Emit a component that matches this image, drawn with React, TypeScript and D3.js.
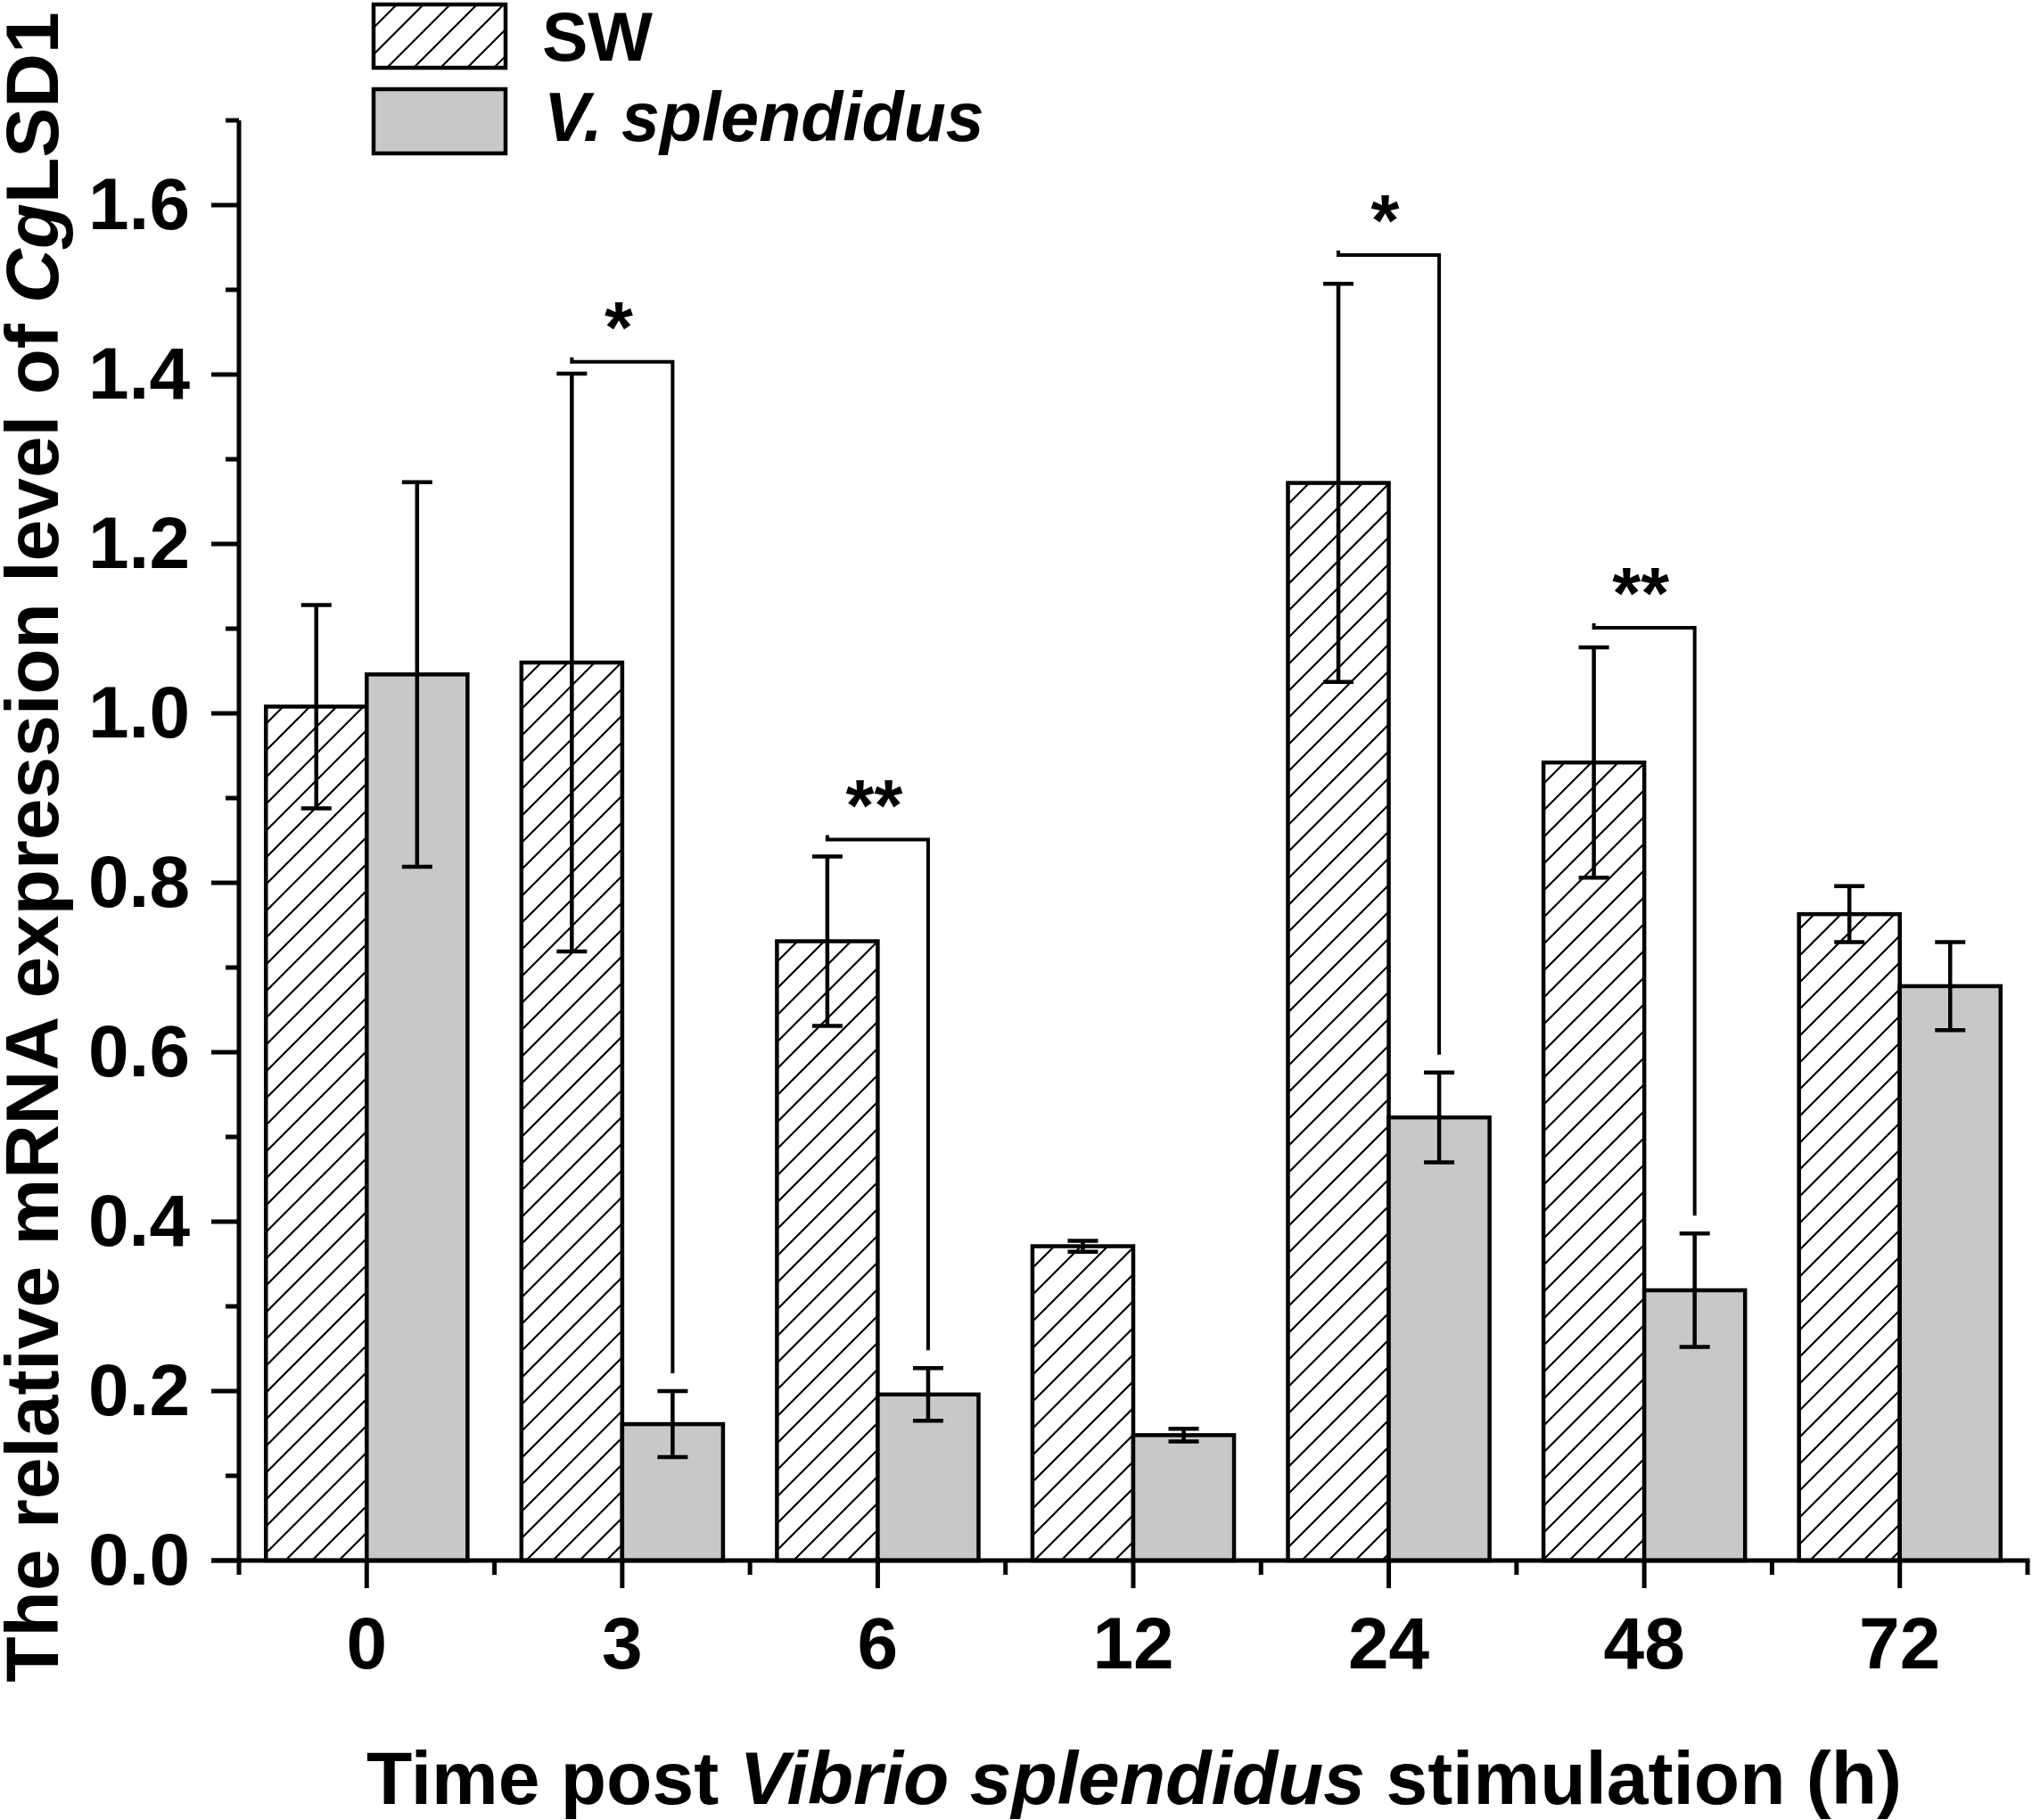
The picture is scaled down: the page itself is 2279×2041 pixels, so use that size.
import React from "react";
import * as d3 from "d3";

const categories = ["0", "3", "6", "12", "24", "48", "72"];
const swMean = [1.008, 1.06, 0.731, 0.371, 1.272, 0.942, 0.763];
const swSD = [0.12, 0.341, 0.1, 0.0065, 0.235, 0.136, 0.033];
const vsMean = [1.046, 0.161, 0.196, 0.148, 0.523, 0.319, 0.678];
const vsSD = [0.227, 0.039, 0.031, 0.0075, 0.053, 0.067, 0.052];
const sigCats = ["3", "6", "24", "48"];
const sigLabels = ["*", "**", "*", "**"];
const sigLevels = [1.415, 0.851, 1.541, 1.101];
const yMajorTicks = [0, 0.2, 0.4, 0.6, 0.8, 1.0, 1.2, 1.4, 1.6];
const yMinorTicks = [0.1, 0.3, 0.5, 0.7, 0.9, 1.1, 1.3, 1.5, 1.7];

const W = 2279;
const H = 2041;
const FONT = "'Liberation Sans', Arial, Helvetica, sans-serif";

export default function App() {
  const x = d3
    .scaleBand<string>()
    .domain(categories)
    .range([268, 2274])
    .paddingInner(0.211)
    .paddingOuter(0.1055);
  const y = d3.scaleLinear().domain([0, 1.7]).range([1750, 135]);
  const step = x.step();
  const bw = x.bandwidth() / 2;
  const center = (c: string) => (x(c) as number) + x.bandwidth() / 2;
  const xStart = 268;
  const xEnd = 2274;
  const minorX = d3.range(categories.length + 1).map((i) => xStart + i * step);
  const capW = 34;
  const axisW = 5;

  return (
    <svg
      width={W}
      height={H}
      viewBox={`0 0 ${W} ${H}`}
      style={{ position: "absolute", left: 0, top: 0, background: "#fff" }}
      fontFamily={FONT}
    >
      <defs>
        <pattern id="hatch" patternUnits="userSpaceOnUse" width={30} height={30}>
          <rect width={30} height={30} fill="#fff" />
          <path
            d="M-7.5,7.5 L7.5,-7.5 M0,30 L30,0 M22.5,37.5 L37.5,22.5"
            stroke="#000"
            strokeWidth={2.2}
          />
        </pattern>
      </defs>
      <rect width={W} height={H} fill="#fff" />

      {/* bars */}
      {categories.map((c, i) => {
        const cx = center(c);
        return (
          <g key={"bars" + c}>
            <rect
              x={cx - bw}
              y={y(swMean[i])}
              width={bw}
              height={y(0) - y(swMean[i])}
              fill="url(#hatch)"
              stroke="#000"
              strokeWidth={4.5}
            />
            <rect
              x={cx}
              y={y(vsMean[i])}
              width={bw}
              height={y(0) - y(vsMean[i])}
              fill="#c8c8c8"
              stroke="#000"
              strokeWidth={4.5}
            />
          </g>
        );
      })}

      {/* error bars */}
      {categories.map((c, i) => {
        const cx = center(c);
        const items = [
          { ex: cx - bw / 2, m: swMean[i], s: swSD[i] },
          { ex: cx + bw / 2, m: vsMean[i], s: vsSD[i] },
        ];
        return (
          <g key={"err" + c} stroke="#000" strokeWidth={4.5}>
            {items.map((it, k) => (
              <g key={k}>
                <line x1={it.ex} x2={it.ex} y1={y(it.m + it.s)} y2={y(it.m - it.s)} />
                <line x1={it.ex - capW / 2} x2={it.ex + capW / 2} y1={y(it.m + it.s)} y2={y(it.m + it.s)} />
                <line x1={it.ex - capW / 2} x2={it.ex + capW / 2} y1={y(it.m - it.s)} y2={y(it.m - it.s)} />
              </g>
            ))}
          </g>
        );
      })}

      {/* significance brackets */}
      {sigCats.map((c, k) => {
        const i = categories.indexOf(c);
        const cx = center(c);
        const x1 = cx - bw / 2;
        const x2 = cx + bw / 2;
        const yl = y(sigLevels[k]);
        const yEnd = y(vsMean[i] + vsSD[i]) - 20;
        return (
          <g key={"sig" + c}>
            <path
              d={`M${x1},${yl - 5} L${x1},${yl} L${x2},${yl} L${x2},${yEnd}`}
              fill="none"
              stroke="#000"
              strokeWidth={4}
            />
            <text
              x={(x1 + x2) / 2 - 4}
              y={yl - 11}
              textAnchor="middle"
              fontSize={82}
              fontWeight="bold"
            >
              {sigLabels[k]}
            </text>
          </g>
        );
      })}

      {/* axes */}
      <g stroke="#000" strokeWidth={axisW}>
        <line x1={xStart} x2={xStart} y1={y(0) + axisW / 2} y2={y(1.7)} />
        <line x1={xStart - 31} x2={xEnd + axisW / 2} y1={y(0)} y2={y(0)} />
        {yMajorTicks.map((t) => (
          <line key={"ym" + t} x1={xStart - 31} x2={xStart} y1={y(t)} y2={y(t)} />
        ))}
        {yMinorTicks.map((t) => (
          <line key={"yn" + t} x1={xStart - 15} x2={xStart} y1={y(t)} y2={y(t)} />
        ))}
        {categories.map((c) => (
          <line key={"xm" + c} x1={center(c)} x2={center(c)} y1={y(0)} y2={y(0) + 31} />
        ))}
        {minorX.map((mx, i) => (
          <line key={"xn" + i} x1={mx} x2={mx} y1={y(0)} y2={y(0) + 16} />
        ))}
      </g>

      {/* tick labels */}
      {yMajorTicks.map((t) => (
        <text
          key={"yl" + t}
          x={213}
          y={y(t) + 27}
          textAnchor="end"
          fontSize={82}
          fontWeight="bold"
        >
          {t.toFixed(1)}
        </text>
      ))}
      {categories.map((c) => (
        <text
          key={"xl" + c}
          x={center(c)}
          y={1871}
          textAnchor="middle"
          fontSize={82}
          fontWeight="bold"
        >
          {c}
        </text>
      ))}

      {/* axis titles */}
      <text x={1272} y={2023} textAnchor="middle" fontSize={84} fontWeight="bold">
        Time post <tspan fontStyle="italic">Vibrio splendidus</tspan> stimulation (h)
      </text>
      <text
        transform={`translate(65, 950) rotate(-90)`}
        textAnchor="middle"
        fontSize={84}
        fontWeight="bold"
      >
        The relative mRNA expression level of <tspan fontStyle="italic">Cg</tspan>LSD1
      </text>

      {/* legend */}
      <rect x={419} y={5} width={148} height={71} fill="url(#hatch)" stroke="#000" strokeWidth={4.5} />
      <rect x={419} y={100} width={148} height={72} fill="#c8c8c8" stroke="#000" strokeWidth={4.5} />
      <text x={608} y={68} fontSize={77} fontWeight="bold">
        SW
      </text>
      <text x={610} y={158} fontSize={77} fontWeight="bold" fontStyle="italic">
        V. splendidus
      </text>
    </svg>
  );
}
